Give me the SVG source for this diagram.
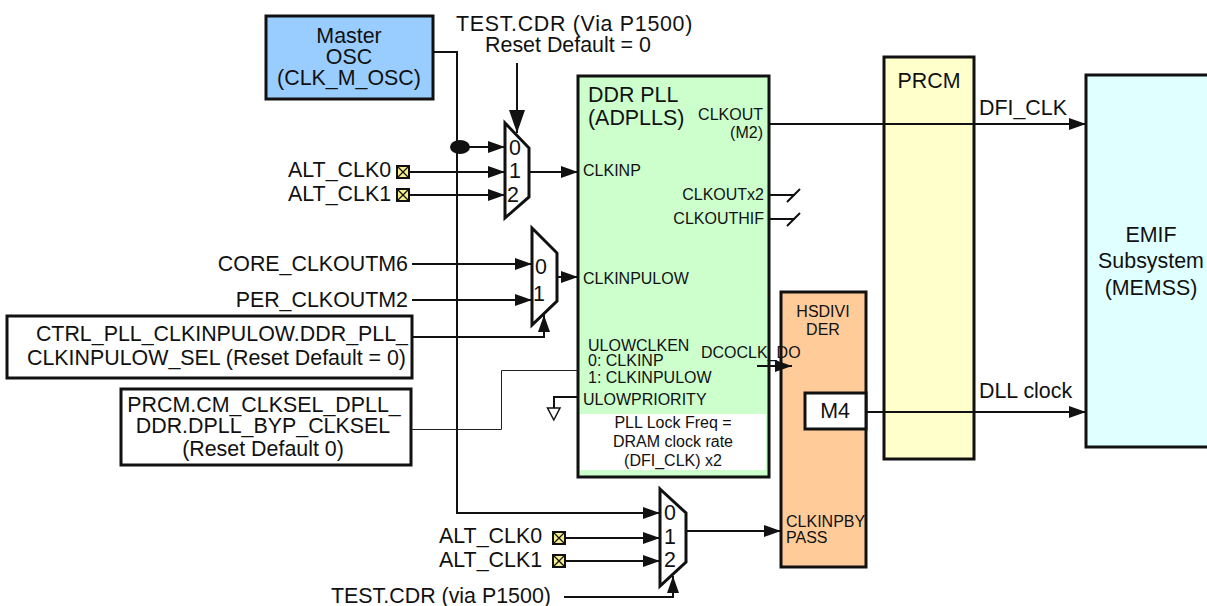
<svg xmlns="http://www.w3.org/2000/svg" width="1207" height="606" viewBox="0 0 1207 606">
<style>
text{font-family:"Liberation Sans",Arial,sans-serif;fill:#111}
.l{font-size:21.4px}.m{text-anchor:middle}.e{text-anchor:end}.s{font-size:16px}.w{font-size:16px}
.b{stroke:#111;stroke-width:3}
.c{fill:none;stroke:#111;stroke-width:2}
.a{marker-end:url(#ah)}
.sq{fill:#f6f08c;stroke:#111;stroke-width:2}
.x{fill:none;stroke:#111;stroke-width:1.3}
</style>
<defs>
<marker id="ah" markerUnits="userSpaceOnUse" markerWidth="17" markerHeight="12" refX="17" refY="6" orient="auto"><path d="M0 0L17 6L0 12Z" fill="#111"/></marker>
<marker id="ahb" markerUnits="userSpaceOnUse" markerWidth="23" markerHeight="16" refX="23" refY="8" orient="auto"><path d="M0 0L23 8L0 16Z" fill="#111"/></marker>
<g id="pad"><rect x="-6" y="-6" width="12" height="12" class="sq"/><path d="M-6-6L6 6M6-6L-6 6" class="x"/></g>
</defs>
<g id="prcm"><rect x="884" y="57" width="90" height="402" fill="#ffffcc" class="b"/><text x="929" y="88" class="l m">PRCM</text></g>
<g id="emif"><rect x="1086" y="75" width="126" height="372" fill="#e0ffff" class="b"/><text x="1151" y="242" class="l m">EMIF</text><text x="1151" y="268" class="l m">Subsystem</text><text x="1151" y="295" class="l m">(MEMSS)</text></g>
<g id="master-osc"><rect x="266" y="16" width="167" height="83" fill="#99ccff" class="b"/><text x="349" y="43" class="l m">Master</text><text x="349" y="64" class="l m">OSC</text><text x="349" y="85" class="l m">(CLK_M_OSC)</text></g>
<g id="ddr-pll"><rect x="578" y="76" width="191" height="401" fill="#ccffcc" class="b"/>
<rect x="580" y="414" width="186" height="56" fill="#fff"/>
<text x="588" y="102" class="l">DDR PLL</text><text x="588" y="125" class="l">(ADPLLS)</text>
<text x="763" y="120" class="s e">CLKOUT</text><text x="763" y="138" class="s e">(M2)</text>
<text x="583" y="176" class="s">CLKINP</text><text x="764" y="200" class="s e">CLKOUTx2</text><text x="764" y="224" class="s e">CLKOUTHIF</text>
<text x="583" y="284" class="s">CLKINPULOW</text>
<text x="588" y="351" class="s">ULOWCLKEN</text><text x="588" y="366" class="s">0: CLKINP</text><text x="588" y="383" class="s">1: CLKINPULOW</text>
<text x="583" y="405" class="s">ULOWPRIORITY</text>
<text x="673" y="428" class="w m">PLL Lock Freq =</text><text x="673" y="447" class="w m">DRAM clock rate</text><text x="673" y="466" class="w m">(DFI_CLK) x2</text></g>
<g id="hsdivider"><rect x="781" y="292" width="85" height="275" fill="#ffcc99" class="b"/>
<text x="823" y="317" class="s m">HSDIVI</text><text x="823" y="335" class="s m">DER</text>
<text x="786" y="527" class="s">CLKINPBY</text><text x="786" y="543" class="s">PASS</text></g>
<g id="m4"><rect x="805" y="393" width="61" height="36" fill="#fff" class="b"/><text x="835" y="418" class="l m">M4</text></g>
<g id="ctrl-box"><rect x="7" y="316" width="405" height="62" fill="#fff" class="b"/><text x="408" y="341" class="l e">CTRL_PLL_CLKINPULOW.DDR_PLL_</text><text x="406" y="365" class="l e">CLKINPULOW_SEL (Reset Default = 0)</text></g>
<g id="prcm-box"><rect x="121" y="389" width="290" height="76" fill="#fff" class="b"/><text x="264" y="412" class="l m">PRCM.CM_CLKSEL_DPLL_</text><text x="263" y="433" class="l m">DDR.DPLL_BYP_CLKSEL</text><text x="263" y="456" class="l m">(Reset Default 0)</text></g>
<g id="connectors">
<path d="M433 52H457V513H660" class="c a"/>
<ellipse cx="460" cy="147" rx="10" ry="7" fill="#111"/>
<path d="M460 147H505" class="c a"/><path d="M409 172H505" class="c a"/><path d="M409 195H505" class="c a"/>
<path d="M517 63V133" fill="none" stroke="#111" stroke-width="2" marker-end="url(#ahb)"/>
<path d="M529 172H578" class="c a"/>
<path d="M412 264H532" class="c a"/><path d="M412 300H532" class="c a"/>
<path d="M557 277H578" class="c a"/>
<path d="M412 337H544V315" class="c a"/>
<path d="M411 429.500H501.500V370.500H578" fill="none" stroke="#222" stroke-width="1"/>
<path d="M578 397H554V408" class="c"/><path d="M547.500 408H560L553.800 420Z" fill="#fff" stroke="#111" stroke-width="1.500"/>
<path d="M770 124H1086" class="c a"/>
<path d="M770 195H795M787 202L800 189" class="c"/><path d="M770 219H795M787 226L800 213" class="c"/>
<path d="M757 366H792" class="c a"/>
<path d="M866 412H1086" class="c a"/>
<path d="M686 531H781" class="c a"/>
<path d="M566 538H660" class="c a"/><path d="M566 561H660" class="c a"/>
<path d="M564 597H673V576" class="c a"/>
</g>
<g id="mux-0"><path d="M505 123L529 148V197L505 218Z" fill="#fff" class="b"/><text x="509" y="155" class="l">0</text><text x="509" y="178" class="l">1</text><text x="507" y="202" class="l">2</text></g>
<g id="mux-1"><path d="M532 228L557 253V301L532 325Z" fill="#fff" class="b"/><text x="535" y="274" class="l">0</text><text x="533" y="301" class="l">1</text></g>
<g id="mux-2"><path d="M660 489L686 513V562L660 586Z" fill="#fff" class="b"/><text x="664" y="520" class="l">0</text><text x="664" y="544" class="l">1</text><text x="664" y="567" class="l">2</text></g>
<g id="dfi"><text x="979" y="115" class="l">DFI_CLK</text><text x="979" y="398" class="l">DLL clock</text></g>
<g id="dcoclk"><text x="701" y="358" class="s">DCOCLK_DO</text></g>
<g id="labels">
<text x="574.500" y="31" class="l m" style="letter-spacing:.7px">TEST.CDR (Via P1500)</text><text x="568" y="52" class="l m">Reset Default = 0</text>
<text x="288" y="177" class="l">ALT_CLK0</text><text x="288" y="201" class="l">ALT_CLK1</text>
<use href="#pad" x="403" y="172"/><use href="#pad" x="403" y="195"/>
<text x="408" y="271" class="l e">CORE_CLKOUTM6</text><text x="408" y="307" class="l e">PER_CLKOUTM2</text>
<text x="439" y="543" class="l">ALT_CLK0</text><text x="439" y="567" class="l">ALT_CLK1</text>
<use href="#pad" x="559" y="538"/><use href="#pad" x="559" y="561"/>
<text x="331" y="603" class="l">TEST.CDR (via P1500)</text>
</g>
</svg>
